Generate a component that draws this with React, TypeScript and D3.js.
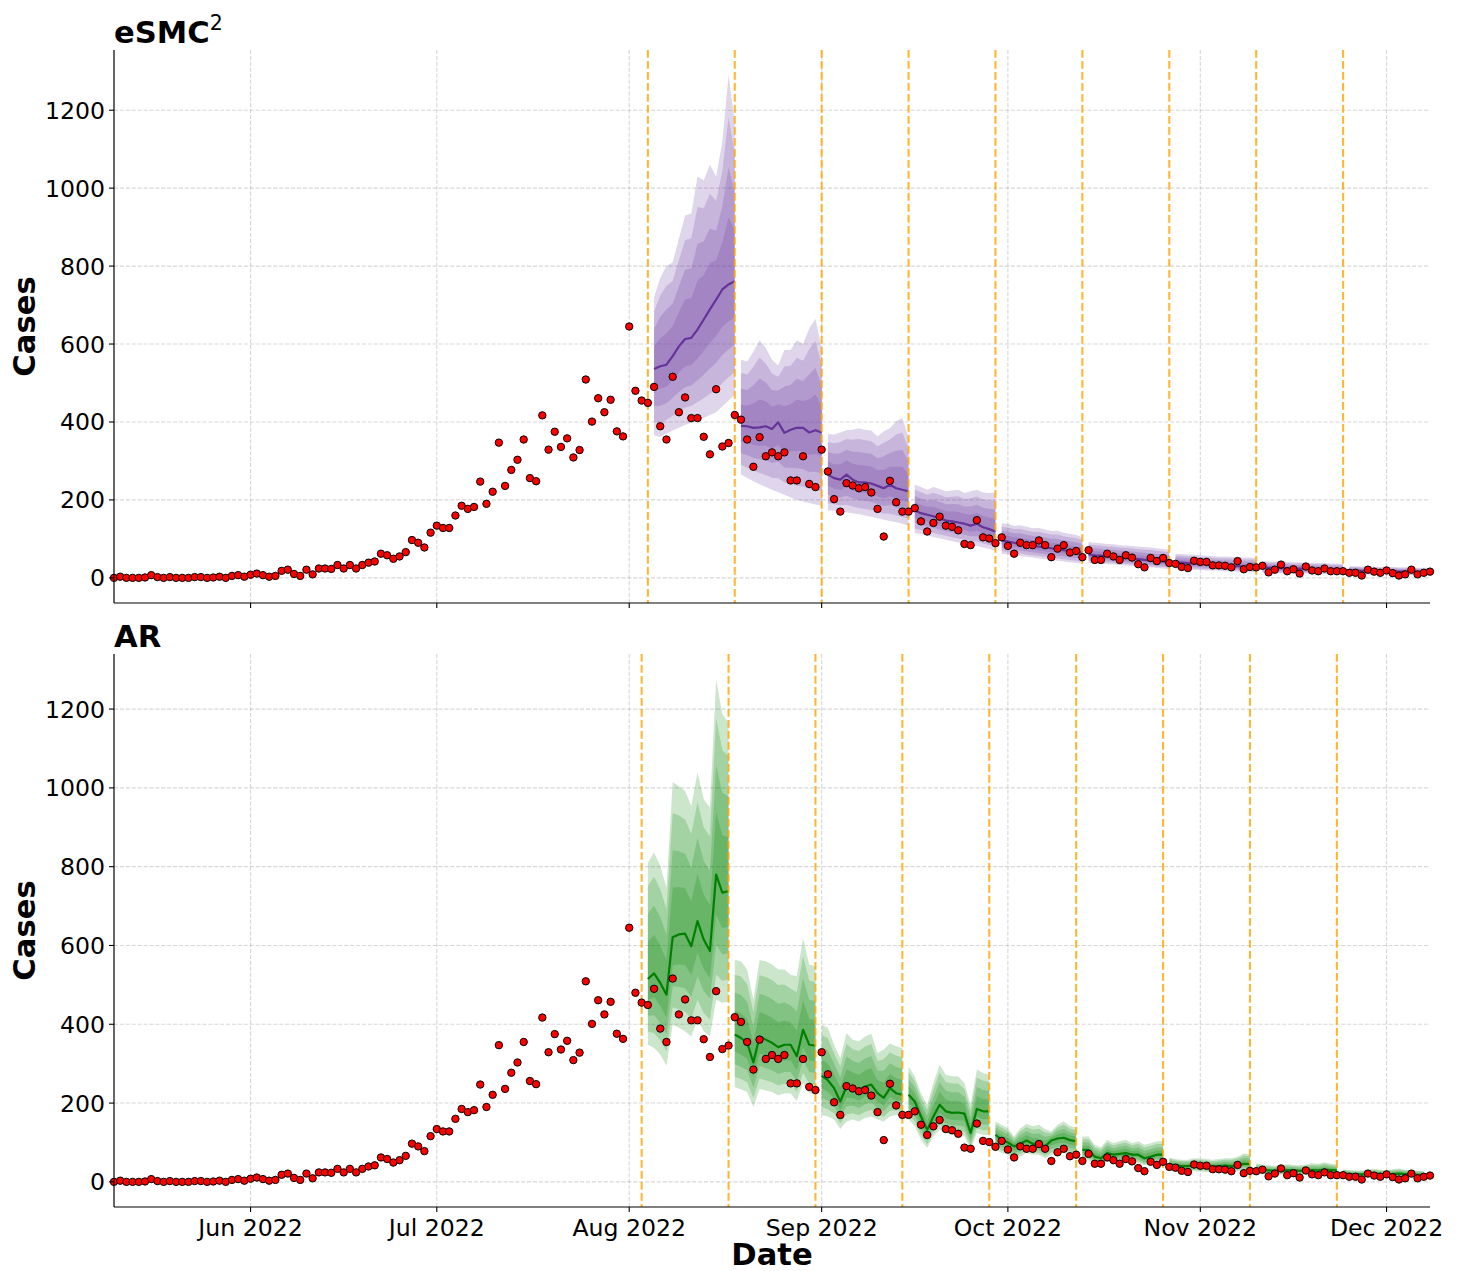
import React, { useEffect, useRef } from "react";
import * as d3 from "d3";

// observed daily cases, one per day from 2022-05-10
const START_DATE = "2022-05-10";
const CASES = [
  0, 3, 0, 0, 0, 1, 7, 2, 0, 2,
  0, 0, 0, 2, 2, 0, 1, 3, 0, 5,
  7, 3, 8, 11, 7, 3, 5, 18, 21, 10,
  5, 21, 9, 24, 24, 23, 33, 24, 33, 24,
  33, 39, 42, 62, 58, 49, 55, 66, 97, 90,
  78, 116, 134, 128, 128, 160, 185, 177, 182, 247,
  190, 221, 347, 236, 277, 303, 355, 256, 248, 417,
  329, 375, 336, 358, 309, 328, 509, 401, 461, 425,
  457, 376, 363, 645, 480, 455, 449, 490, 389, 355,
  516, 425, 463, 410, 410, 362, 317, 484, 337, 346,
  418, 406, 355, 285, 361, 312, 322, 312, 322, 250,
  250, 312, 241, 233, 329, 273, 202, 170, 243, 237,
  230, 233, 219, 177, 106, 249, 194, 170, 170, 179,
  145, 119, 141, 157, 134, 131, 122, 87, 84, 148,
  104, 101, 89, 104, 82, 62, 90, 84, 84, 96,
  84, 53, 75, 84, 65, 69, 53, 71, 46, 46,
  62, 55, 46, 58, 52, 35, 27, 51, 43, 51,
  38, 36, 28, 25, 44, 41, 41, 32, 32, 31,
  27, 43, 22, 28, 27, 31, 14, 21, 34, 17,
  22, 11, 29, 19, 17, 24, 17, 17, 17, 13,
  13, 6, 21, 16, 13, 19, 12, 6, 9, 21,
  9, 13, 16
];

// eSMC2 forecasts: origin date (dashed line), then 14 days of median / 95% bounds
const ESMC_ORIGINS = ["2022-08-04", "2022-08-18", "2022-09-01", "2022-09-15", "2022-09-29", "2022-10-13", "2022-10-27", "2022-11-10", "2022-11-24"];
const ESMC_MEDIAN = [
  [536, 543, 547, 569, 594, 613, 616, 637, 663, 689, 714, 740, 753, 761],
  [390, 389, 385, 386, 389, 382, 399, 372, 380, 385, 385, 373, 379, 373],
  [265, 256, 252, 265, 252, 245, 245, 242, 236, 230, 239, 230, 226, 222],
  [173, 166, 162, 158, 153, 147, 145, 142, 139, 134, 139, 130, 125, 119],
  [96, 93, 90, 88, 85, 83, 80, 78, 76, 73, 71, 69, 67, 65],
  [60, 58, 57, 55, 54, 52, 51, 49, 48, 46, 45, 43, 42, 40],
  [40, 39, 38, 37, 36, 35, 34, 33, 32, 31, 30, 29, 28, 27],
  [27, 26, 26, 25, 25, 24, 24, 23, 23, 22, 22, 21, 21, 20],
  [19, 19, 18, 18, 18, 17, 17, 17, 16, 16, 16, 15, 15, 15]
];
const ESMC_LO = [
  [365, 362, 370, 378, 385, 392, 398, 405, 410, 418, 425, 440, 455, 470],
  [265, 256, 248, 240, 233, 226, 220, 213, 206, 200, 196, 192, 188, 185],
  [173, 172, 170, 168, 166, 163, 160, 157, 153, 149, 146, 143, 139, 134],
  [115, 112, 108, 105, 101, 98, 94, 91, 88, 85, 82, 78, 74, 70],
  [62, 60, 58, 56, 54, 52, 50, 48, 46, 44, 42, 40, 38, 36],
  [38, 37, 36, 35, 34, 33, 32, 31, 29, 28, 27, 25, 24, 23],
  [23, 22, 21, 21, 20, 19, 19, 18, 17, 17, 16, 15, 15, 14],
  [13, 13, 12, 12, 12, 11, 11, 11, 10, 10, 10, 9, 9, 9],
  [9, 9, 9, 8, 8, 8, 8, 7, 7, 7, 7, 6, 6, 6]
];
const ESMC_HI = [
  [720, 770, 800, 810, 870, 930, 935, 1030, 1020, 1060, 1030, 1120, 1290, 1170],
  [560, 555, 580, 610, 590, 560, 545, 585, 585, 610, 600, 640, 665, 590],
  [369, 368, 373, 379, 380, 384, 380, 378, 363, 376, 384, 402, 410, 359],
  [239, 233, 226, 233, 228, 222, 224, 226, 218, 222, 226, 219, 218, 219],
  [140, 138, 134, 135, 131, 127, 128, 124, 120, 121, 116, 113, 110, 104],
  [92, 90, 89, 87, 86, 84, 83, 82, 80, 79, 78, 76, 74, 72],
  [62, 61, 60, 59, 58, 57, 56, 55, 55, 54, 53, 52, 52, 51],
  [43, 42, 42, 41, 41, 40, 40, 39, 39, 38, 38, 37, 37, 36],
  [30, 30, 29, 29, 29, 28, 28, 28, 27, 27, 27, 26, 26, 26]
];

// AR forecasts
const AR_ORIGINS = ["2022-08-03", "2022-08-17", "2022-08-31", "2022-09-14", "2022-09-28", "2022-10-12", "2022-10-26", "2022-11-09", "2022-11-23"];
const AR_MEDIAN = [
  [515, 529, 505, 475, 621, 628, 630, 598, 662, 615, 586, 780, 734, 738],
  [374, 365, 353, 303, 369, 361, 353, 342, 348, 348, 319, 386, 348, 346],
  [269, 258, 238, 204, 242, 238, 232, 242, 247, 225, 213, 238, 225, 221],
  [221, 204, 166, 132, 166, 196, 179, 175, 176, 173, 124, 185, 179, 179],
  [119, 107, 100, 90, 97, 105, 97, 94, 90, 105, 110, 112, 106, 103],
  [81, 81, 64, 60, 73, 69, 71, 73, 69, 69, 60, 64, 69, 69],
  [44, 42, 40, 40, 42, 41, 40, 39, 40, 41, 40, 42, 46, 45],
  [32, 30, 29, 28, 29, 30, 29, 28, 29, 30, 29, 31, 30, 29],
  [21, 20, 19, 19, 20, 21, 20, 19, 20, 21, 20, 19, 18, 18]
];
const AR_LO = [
  [348, 340, 323, 295, 399, 391, 382, 369, 412, 382, 369, 463, 454, 458],
  [240, 235, 228, 190, 236, 232, 228, 220, 224, 224, 205, 250, 225, 222],
  [170, 166, 158, 134, 153, 158, 153, 162, 166, 158, 153, 166, 170, 170],
  [158, 141, 107, 86, 115, 132, 124, 119, 117, 115, 81, 124, 119, 119],
  [81, 73, 69, 56, 64, 73, 69, 69, 60, 68, 72, 74, 70, 68],
  [56, 55, 43, 41, 52, 48, 50, 51, 48, 48, 42, 45, 48, 47],
  [28, 26, 25, 25, 27, 26, 25, 24, 25, 26, 26, 27, 30, 29],
  [20, 19, 18, 17, 18, 19, 18, 17, 18, 19, 18, 20, 19, 18],
  [12, 11, 11, 11, 12, 12, 11, 11, 12, 12, 11, 11, 10, 10]
];
const AR_HI = [
  [810, 836, 802, 747, 1014, 1005, 992, 954, 1039, 971, 950, 1276, 1187, 1166],
  [564, 560, 539, 463, 563, 560, 552, 539, 539, 526, 522, 619, 552, 547],
  [399, 391, 348, 314, 378, 361, 357, 369, 376, 327, 336, 351, 344, 340],
  [293, 268, 225, 196, 251, 297, 272, 268, 268, 251, 196, 285, 276, 272],
  [153, 145, 136, 115, 136, 147, 141, 145, 134, 128, 145, 153, 142, 138],
  [115, 115, 94, 88, 107, 98, 103, 107, 98, 103, 94, 98, 103, 103],
  [62, 58, 56, 56, 60, 59, 58, 56, 58, 60, 60, 64, 72, 70],
  [47, 44, 42, 41, 43, 45, 43, 42, 44, 47, 46, 50, 46, 44],
  [32, 30, 29, 29, 31, 33, 31, 30, 32, 34, 31, 30, 29, 28]
];

const Y_TICKS = [0, 200, 400, 600, 800, 1000, 1200];
// share of the distance from median to the 95% bound for each nested band
const BAND_LEVELS = [1, 0.8, 0.56, 0.32];

const WIDTH = 1461;
const HEIGHT = 1271;
const LEFT = 114;
const RIGHT = 1430;
const FONT = "DejaVu Sans, Verdana, sans-serif";

const PANELS = [
  { title: "eSMC", sup: "2", top: 50, bottom: 603, color: "#663399", lineColor: "#663399",
    origins: ESMC_ORIGINS, med: ESMC_MEDIAN, lo: ESMC_LO, hi: ESMC_HI, xLabels: false },
  { title: "AR", sup: "", top: 654, bottom: 1207, color: "#008000", lineColor: "#008000",
    origins: AR_ORIGINS, med: AR_MEDIAN, lo: AR_LO, hi: AR_HI, xLabels: true }
];

export default function App() {
  const ref = useRef<SVGSVGElement>(null);

  useEffect(() => {
    const svg = d3.select(ref.current);
    svg.selectAll("*").remove();
    const parse = d3.timeParse("%Y-%m-%d");
    const start = parse(START_DATE) as Date;
    const dates = CASES.map((_, i) => d3.timeDay.offset(start, i));

    const x = d3.scaleTime()
      .domain([dates[0], dates[dates.length - 1]])
      .range([LEFT, RIGHT]);
    const months = d3.timeMonth.range(d3.timeMonth.ceil(dates[0]), dates[dates.length - 1]);
    const fmt = d3.timeFormat("%b %Y");

    PANELS.forEach((p) => {
      const maxVal = d3.max([...CASES, ...p.hi.flat()]) as number;
      const y = d3.scaleLinear()
        .domain([-0.05 * maxVal, 1.05 * maxVal])
        .range([p.bottom, p.top]);
      const g = svg.append("g");

      // grid
      g.append("g").selectAll("line").data(Y_TICKS).join("line")
        .attr("x1", LEFT).attr("x2", RIGHT)
        .attr("y1", (d) => y(d)).attr("y2", (d) => y(d))
        .attr("stroke", "#b0b0b0").attr("stroke-opacity", 0.5)
        .attr("stroke-width", 1.1).attr("stroke-dasharray", "4.1,1.8");
      g.append("g").selectAll("line").data(months).join("line")
        .attr("x1", (d) => x(d)).attr("x2", (d) => x(d))
        .attr("y1", p.top).attr("y2", p.bottom)
        .attr("stroke", "#b0b0b0").attr("stroke-opacity", 0.5)
        .attr("stroke-width", 1.1).attr("stroke-dasharray", "4.1,1.8");

      // forecast bands and medians
      p.origins.forEach((o, w) => {
        const origin = parse(o) as Date;
        const rows = p.med[w].map((m, i) => ({
          date: d3.timeDay.offset(origin, i + 1),
          med: m,
          lo: p.lo[w][i],
          hi: p.hi[w][i]
        }));
        BAND_LEVELS.forEach((f) => {
          const area = d3.area<any>()
            .x((d) => x(d.date))
            .y0((d) => y(d.med - f * (d.med - d.lo)))
            .y1((d) => y(d.med + f * (d.hi - d.med)));
          g.append("path").attr("d", area(rows) as string)
            .attr("fill", p.color).attr("fill-opacity", 0.2);
        });
        const line = d3.line<any>().x((d) => x(d.date)).y((d) => y(d.med));
        g.append("path").attr("d", line(rows) as string)
          .attr("fill", "none").attr("stroke", p.lineColor)
          .attr("stroke-width", 2.2).attr("stroke-linejoin", "round");
      });

      // forecast origins
      g.append("g").selectAll("line").data(p.origins).join("line")
        .attr("x1", (d) => x(parse(d) as Date)).attr("x2", (d) => x(parse(d) as Date))
        .attr("y1", p.top).attr("y2", p.bottom)
        .attr("stroke", "orange").attr("stroke-opacity", 0.8)
        .attr("stroke-width", 2.1).attr("stroke-dasharray", "7.7,3.3");

      // observed cases
      g.append("g").selectAll("circle").data(CASES).join("circle")
        .attr("cx", (_, i) => x(dates[i]))
        .attr("cy", (d) => y(d))
        .attr("r", 3.7)
        .attr("fill", "red").attr("stroke", "black").attr("stroke-width", 1);

      // spines
      g.append("line").attr("x1", LEFT).attr("x2", LEFT)
        .attr("y1", p.top).attr("y2", p.bottom)
        .attr("stroke", "black").attr("stroke-width", 1.2);
      g.append("line").attr("x1", LEFT).attr("x2", RIGHT)
        .attr("y1", p.bottom).attr("y2", p.bottom)
        .attr("stroke", "black").attr("stroke-width", 1.2);

      // y ticks
      const yt = g.append("g").selectAll("g").data(Y_TICKS).join("g");
      yt.append("line").attr("x1", LEFT - 5).attr("x2", LEFT)
        .attr("y1", (d) => y(d)).attr("y2", (d) => y(d))
        .attr("stroke", "black").attr("stroke-width", 1.1);
      yt.append("text").attr("x", LEFT - 9).attr("y", (d) => y(d))
        .attr("dy", "0.36em").attr("text-anchor", "end")
        .attr("font-family", FONT).attr("font-size", 23.6)
        .text((d) => String(d));

      // x ticks
      const xt = g.append("g").selectAll("g").data(months).join("g");
      xt.append("line").attr("x1", (d) => x(d)).attr("x2", (d) => x(d))
        .attr("y1", p.bottom).attr("y2", p.bottom + 5)
        .attr("stroke", "black").attr("stroke-width", 1.1);
      if (p.xLabels) {
        xt.append("text").attr("x", (d) => x(d)).attr("y", p.bottom + 29)
          .attr("text-anchor", "middle")
          .attr("font-family", FONT).attr("font-size", 23.6)
          .text((d) => fmt(d));
      }

      // titles and labels
      const title = g.append("text").attr("x", LEFT).attr("y", p.top - 7)
        .attr("font-family", FONT).attr("font-size", 30.6).attr("font-weight", "bold");
      title.append("tspan").text(p.title);
      if (p.sup) {
        title.append("tspan").attr("dy", -13).attr("font-size", 20.5)
          .attr("font-weight", "normal").text(p.sup);
      }
      const cy = (p.top + p.bottom) / 2;
      g.append("text")
        .attr("transform", `translate(35,${cy}) rotate(-90)`)
        .attr("text-anchor", "middle")
        .attr("font-family", FONT).attr("font-size", 30.6).attr("font-weight", "bold")
        .text("Cases");
    });

    svg.append("text").attr("x", (LEFT + RIGHT) / 2).attr("y", 1265)
      .attr("text-anchor", "middle")
      .attr("font-family", FONT).attr("font-size", 30.6).attr("font-weight", "bold")
      .text("Date");
  }, []);

  return (
    <svg
      ref={ref}
      width={WIDTH}
      height={HEIGHT}
      style={{ position: "absolute", left: 0, top: 0, background: "white" }}
    ></svg>
  );
}
